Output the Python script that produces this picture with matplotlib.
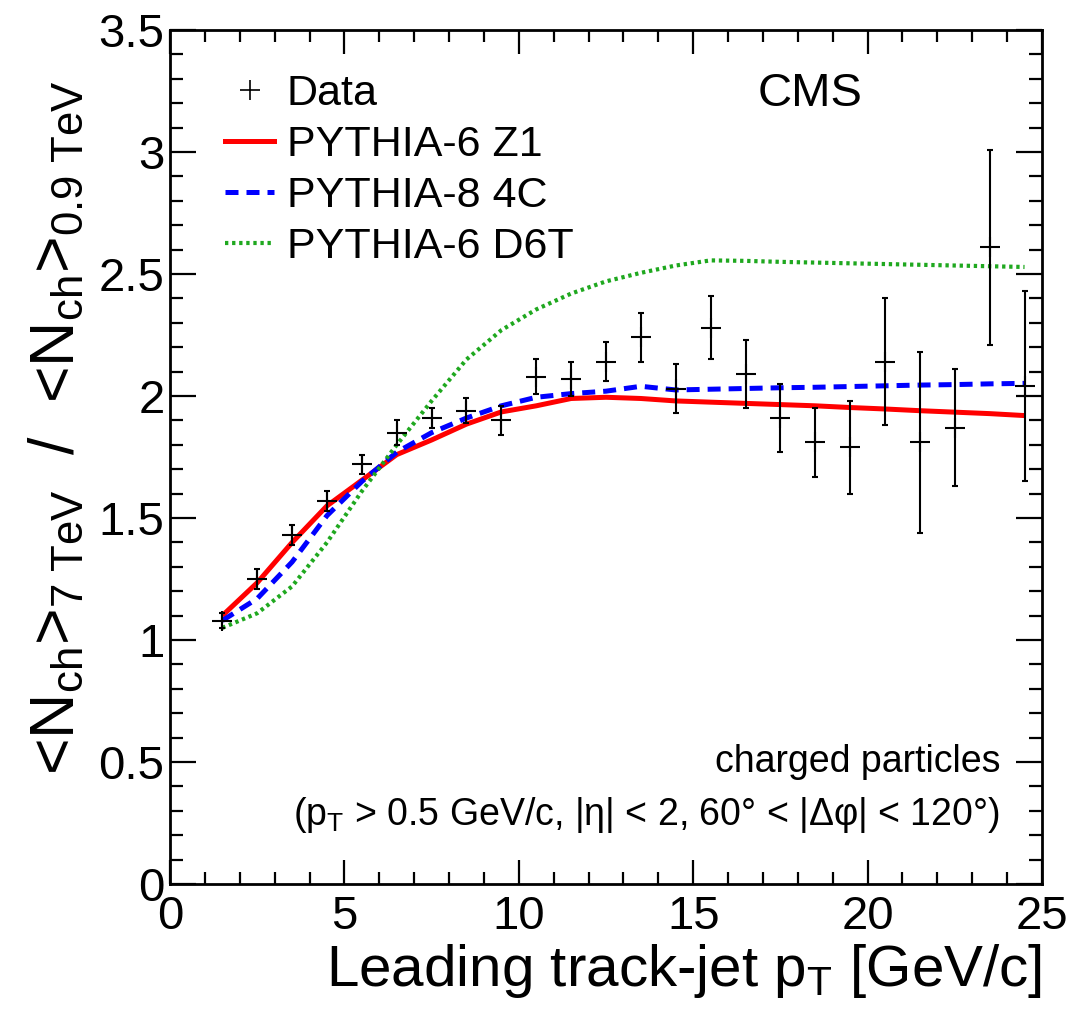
import matplotlib
matplotlib.use('Agg')
import matplotlib.pyplot as plt
from matplotlib.ticker import MultipleLocator
from matplotlib.lines import Line2D

plt.rcParams['font.family'] = ['Liberation Sans', 'DejaVu Sans']
plt.rcParams['mathtext.fontset'] = 'custom'
plt.rcParams['mathtext.rm'] = 'Liberation Sans'
plt.rcParams['mathtext.it'] = 'Liberation Sans:italic'

# leading track-jet pT bin centres [GeV/c]
pt = [1.5, 2.5, 3.5, 4.5, 5.5, 6.5, 7.5, 8.5, 9.5, 10.5, 11.5, 12.5,
      13.5, 14.5, 15.5, 16.5, 17.5, 18.5, 19.5, 20.5, 21.5, 22.5, 23.5, 24.5]

data_y = [1.08, 1.25, 1.43, 1.57, 1.72, 1.85, 1.91, 1.94, 1.90, 2.08, 2.07, 2.14,
          2.24, 2.03, 2.28, 2.09, 1.91, 1.81, 1.79, 2.14, 1.81, 1.87, 2.61, 2.04]
data_err = [0.03, 0.04, 0.04, 0.04, 0.04, 0.05, 0.04, 0.05, 0.06, 0.07, 0.07, 0.08,
            0.10, 0.10, 0.13, 0.14, 0.14, 0.14, 0.19, 0.26, 0.37, 0.24, 0.40, 0.39]

z1 = [1.10, 1.235, 1.40, 1.55, 1.655, 1.76, 1.82, 1.885, 1.935, 1.96, 1.99, 1.995,
      1.99, 1.98, 1.975, 1.97, 1.965, 1.96, 1.953, 1.947, 1.94, 1.934, 1.928, 1.92]
c4 = [1.08, 1.17, 1.32, 1.51, 1.65, 1.77, 1.85, 1.91, 1.96, 1.995, 2.01, 2.02,
      2.04, 2.025, 2.028, 2.031, 2.034, 2.036, 2.039, 2.042, 2.045, 2.047, 2.05, 2.052]
d6t = [1.05, 1.11, 1.22, 1.40, 1.61, 1.80, 1.98, 2.15, 2.27, 2.355, 2.42, 2.47,
       2.505, 2.535, 2.556, 2.554, 2.55, 2.547, 2.544, 2.541, 2.538, 2.535, 2.532, 2.529]

GREEN = '#1fa81f'

fig = plt.figure(figsize=(10.72, 10.15), dpi=100)
ax = fig.add_axes([0.1586, 0.129, 0.8134, 0.8414])

ax.plot(pt, z1, color='red', lw=3.6, solid_capstyle='butt', zorder=2)
ax.plot(pt, c4, color='blue', lw=3.6, dashes=(2.6, 1.6), zorder=2)
ax.plot(pt, d6t, color=GREEN, lw=3.0, dashes=(0.8, 0.9), zorder=2)
ax.errorbar(pt, data_y, yerr=data_err, fmt='+', color='black', ms=15, mew=1.5,
            elinewidth=1.5, capsize=2.5, capthick=1.5, zorder=3)

ax.set_xlim(0, 25)
ax.set_ylim(0, 3.5)
ax.xaxis.set_major_locator(MultipleLocator(5))
ax.xaxis.set_minor_locator(MultipleLocator(1))
ax.yaxis.set_major_locator(MultipleLocator(0.5))
ax.yaxis.set_minor_locator(MultipleLocator(0.1))
ax.yaxis.set_major_formatter(matplotlib.ticker.FuncFormatter(lambda v, p: f'{v:g}'))
for s in ax.spines.values():
    s.set_linewidth(2)
ax.tick_params(which='both', direction='in', top=True, right=True, width=1.6)
ax.tick_params(axis='x', which='major', length=17, labelsize=34, pad=8)
ax.tick_params(axis='x', which='minor', length=8.5)
ax.tick_params(axis='y', which='major', length=19, labelsize=34, pad=4)
ax.tick_params(axis='y', which='minor', length=9.5)

ax.set_xlabel(r'Leading track-jet p$_{\mathrm{T}}$ [GeV/c]', fontsize=42, loc='right', labelpad=2)
fig.text(0.054, 0.921,
         r'<N$_{\mathrm{ch}}$>$_{\mathrm{7\ TeV}}$  /  <N$_{\mathrm{ch}}$>$_{\mathrm{0.9\ TeV}}$',
         rotation=90, ha='center', va='top', fontsize=45)

handles = [Line2D([], [], ls='none', marker='+', color='black', ms=15, mew=1.2),
           Line2D([], [], color='red', lw=3.6),
           Line2D([], [], color='blue', lw=3.6, dashes=(2.6, 1.6)),
           Line2D([], [], color=GREEN, lw=3.0, dashes=(0.8, 0.9))]
labels = ['Data', 'PYTHIA-6 Z1', 'PYTHIA-8 4C', 'PYTHIA-6 D6T']
ax.legend(handles, labels, loc='upper left', bbox_to_anchor=(0.063, 0.948),
          frameon=False, fontsize=31, handlelength=1.15, handletextpad=0.28,
          labelspacing=0.25, borderpad=0, borderaxespad=0)

ax.text(0.734, 0.925, 'CMS', transform=ax.transAxes, ha='center', va='center', fontsize=34)
ax.text(0.952, 0.143, 'charged particles', transform=ax.transAxes,
        ha='right', va='center', fontsize=27)
ax.text(0.952, 0.081, r'(p$_{\mathrm{T}}$ > 0.5 GeV/c, |η| < 2, 60° < |Δφ| < 120°)',
        transform=ax.transAxes, ha='right', va='center', fontsize=27)

fig.savefig('out.png', dpi=100)
